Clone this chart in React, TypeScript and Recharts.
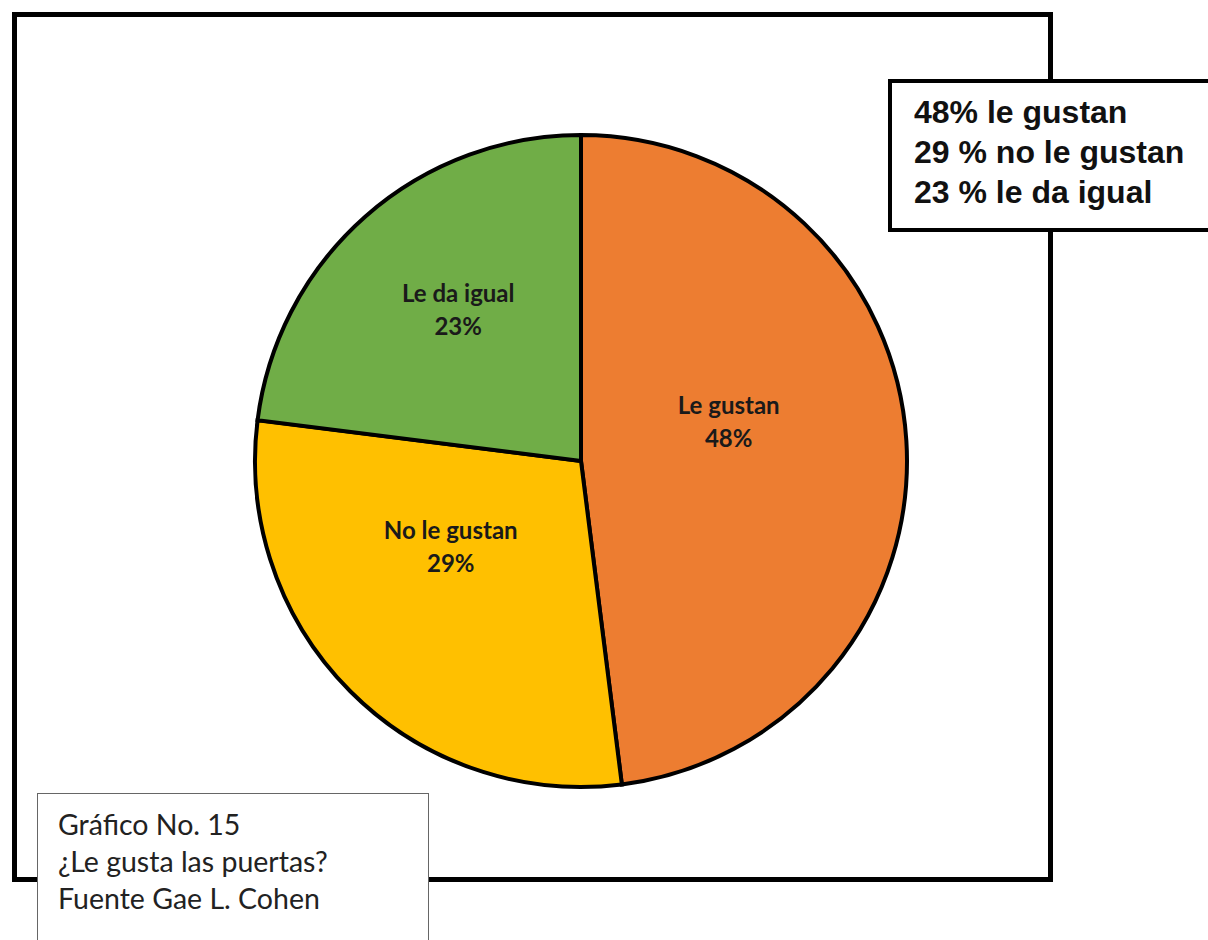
import React from 'react';
import { PieChart, Pie, Cell } from 'recharts';

const categories = ['Le gustan', 'No le gustan', 'Le da igual'];
const percentages = [48, 29, 23];
const sliceColors = ['#ED7D31', '#FFC000', '#70AD47'];
const legendLines = ['48% le gustan', '29 % no le gustan', '23 % le da igual'];
const captionLines = ['Gráfico No. 15', '¿Le gusta las puertas?', 'Fuente Gae L. Cohen'];

const data = categories.map((name, i) => ({ name, value: percentages[i] }));

const RADIAN = Math.PI / 180;

// labels sit roughly halfway out, nudged up/left like Excel's best fit
const renderLabel = (props: any) => {
  const { cx, cy, midAngle, outerRadius, name, value } = props;
  const r = outerRadius * 0.5;
  const x = cx + r * Math.cos(-midAngle * RADIAN) - 15;
  const yc = cy + r * Math.sin(-midAngle * RADIAN) - 29;
  return (
    <text
      x={x}
      y={yc - 8}
      textAnchor="middle"
      fill="#1a1a1a"
      fontFamily="Lato, 'Noto Sans', sans-serif"
      fontWeight="bold"
      fontSize={24}
    >
      <tspan x={x} dy={0}>{name}</tspan>
      <tspan x={x} dy={33}>{`${value}%`}</tspan>
    </text>
  );
};

const App: React.FC = () => {
  return (
    <div
      style={{
        position: 'absolute',
        left: 0,
        top: 0,
        width: 1208,
        height: 940,
        overflow: 'hidden',
        background: '#fff',
      }}
    >
      {/* outer frame */}
      <div
        style={{
          position: 'absolute',
          left: 12,
          top: 12,
          width: 1041,
          height: 870,
          border: '5px solid #000',
          boxSizing: 'border-box',
        }}
      />
      <div style={{ position: 'absolute', left: 0, top: 0 }}>
        <PieChart width={1208} height={940} margin={{ top: 0, right: 0, bottom: 0, left: 0 }}>
          <Pie
            data={data}
            dataKey="value"
            nameKey="name"
            cx={581}
            cy={461}
            outerRadius={326}
            startAngle={90}
            endAngle={-270}
            stroke="#000"
            strokeWidth={4}
            label={renderLabel}
            labelLine={false}
            isAnimationActive={false}
          >
            {data.map((d, i) => (
              <Cell key={d.name} fill={sliceColors[i]} />
            ))}
          </Pie>
        </PieChart>
      </div>
      {/* summary box */}
      <div
        style={{
          position: 'absolute',
          left: 888,
          top: 79,
          width: 330,
          height: 153,
          border: '4px solid #000',
          boxSizing: 'border-box',
          background: '#fff',
          padding: '9px 0 0 22px',
          fontFamily: "'Liberation Sans', Arial, sans-serif",
          fontWeight: 'bold',
          fontSize: 32,
          lineHeight: '40px',
          color: '#111',
        }}
      >
        {legendLines.map((l) => (
          <div key={l}>{l}</div>
        ))}
      </div>
      {/* caption box */}
      <div
        style={{
          position: 'absolute',
          left: 37,
          top: 793,
          width: 392,
          height: 160,
          border: '1px solid #666',
          boxSizing: 'border-box',
          background: '#fff',
          padding: '12px 0 0 20px',
          fontFamily: "Lato, 'Noto Sans', sans-serif",
          fontSize: 28.5,
          lineHeight: '37px',
          color: '#222',
        }}
      >
        {captionLines.map((l) => (
          <div key={l}>{l}</div>
        ))}
      </div>
    </div>
  );
};

export default App;
